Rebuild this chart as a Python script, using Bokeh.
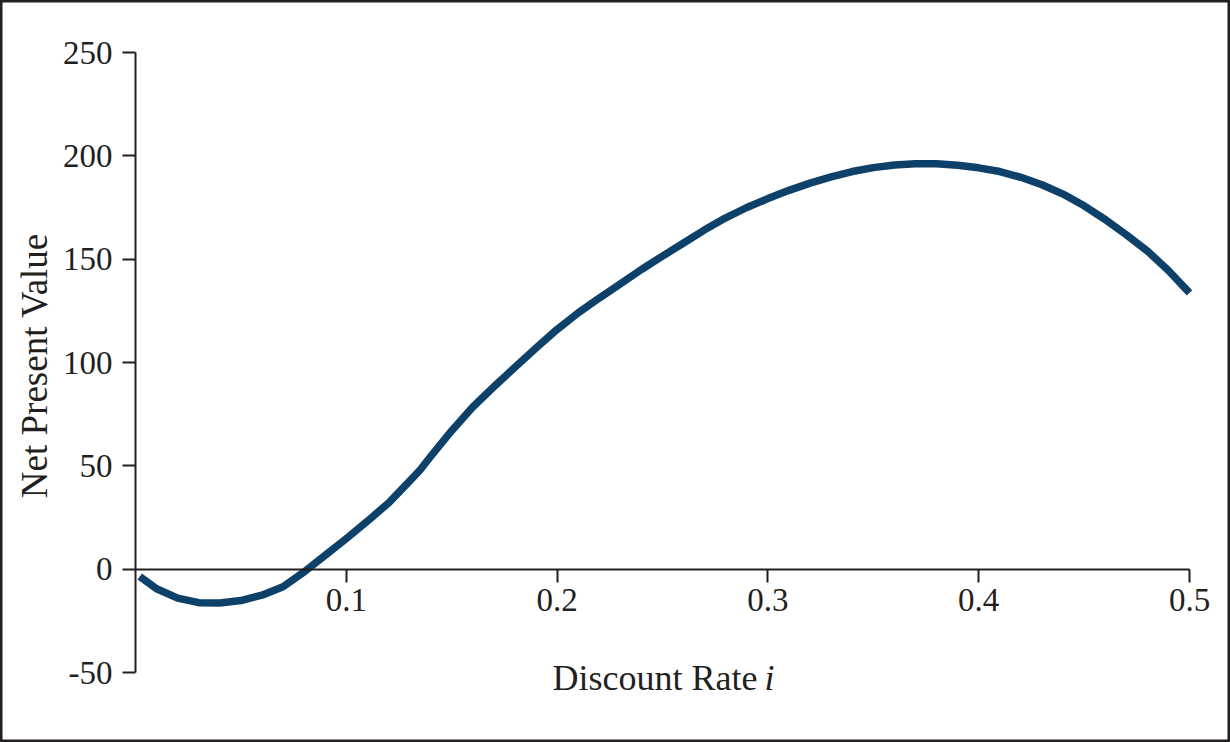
import math
from bokeh.plotting import figure
from bokeh.models import Range1d, LinearAxis, FixedTicker, Label
from bokeh.embed import file_html
from bokeh.resources import INLINE

# ---- data ----
discount_rate = [0.002, 0.01, 0.02, 0.03, 0.04, 0.05, 0.06, 0.07, 0.08, 0.09,
                 0.10, 0.11, 0.12, 0.13, 0.135, 0.14, 0.15, 0.16, 0.17, 0.18,
                 0.19, 0.20, 0.21, 0.22, 0.23, 0.24, 0.25, 0.26, 0.27, 0.28,
                 0.29, 0.30, 0.31, 0.32, 0.33, 0.34, 0.35, 0.36, 0.37, 0.38,
                 0.39, 0.40, 0.41, 0.42, 0.43, 0.44, 0.45, 0.46, 0.47, 0.48,
                 0.49, 0.50]
npv = [-3.5, -9.5, -14.0, -16.2, -16.4, -15.2, -12.6, -8.5, -1.3, 6.7,
       14.8, 23.2, 32.0, 42.6, 48.0, 54.5, 67.0, 78.5, 88.3, 97.7,
       107.0, 116.0, 124.0, 131.2, 138.0, 145.0, 151.5, 157.8, 164.2, 170.0,
       175.0, 179.3, 183.3, 186.8, 189.8, 192.4, 194.3, 195.6, 196.2, 196.2,
       195.4, 194.2, 192.4, 189.6, 186.0, 181.5, 175.8, 169.2, 161.8, 154.0,
       144.5, 133.7]

x_ticks = [0.1, 0.2, 0.3, 0.4, 0.5]
x_tick_labels = ["0.1", "0.2", "0.3", "0.4", "0.5"]
y_ticks = [-50, 0, 50, 100, 150, 200, 250]
y_tick_labels = ["-50", "0", "50", "100", "150", "200", "250"]

x_label = "Discount Rate"
x_label_var = "i"
y_label = "Net Present Value"

FONT = "Liberation Serif"
TXT = "#231f20"
LINE = "#0e4169"

# ---- layout: the frame fills the whole canvas; axes sit at fixed data positions
W, H = 1230, 742
AX_LEFT, AX_RIGHT = 135, 1189      # pixel position of x = 0 and x = 0.5
AX_TOP, AX_BOTTOM = 52, 672        # pixel position of y = 250 and y = -50
xs = (AX_RIGHT - AX_LEFT) / (x_ticks[-1] - 0.0)
ys = (AX_BOTTOM - AX_TOP) / (y_ticks[-1] - y_ticks[0])
x_range = Range1d(0.0 - AX_LEFT / xs, x_ticks[-1] + (W - AX_RIGHT) / xs)
y_range = Range1d(y_ticks[0] - (H - AX_BOTTOM) / ys, y_ticks[-1] + AX_TOP / ys)

p = figure(width=W, height=H, output_backend="svg", toolbar_location=None,
           x_range=x_range, y_range=y_range,
           x_axis_location=None, y_axis_location=None, min_border=0)
p.grid.visible = False
p.outline_line_color = TXT
p.outline_line_width = 4
p.background_fill_color = "white"
p.border_fill_color = "white"


def style_axis(ax, standoff):
    ax.minor_tick_line_color = None
    ax.major_tick_in = 0
    ax.major_tick_out = 13
    ax.major_tick_line_width = 2
    ax.major_tick_line_color = TXT
    ax.axis_line_width = 2
    ax.axis_line_color = TXT
    ax.major_label_text_font = FONT
    ax.major_label_text_font_size = "33px"
    ax.major_label_text_color = TXT
    ax.major_label_standoff = standoff


# y axis at x = 0
ya = LinearAxis(fixed_location=0, ticker=FixedTicker(ticks=y_ticks),
                bounds=(y_ticks[0], y_ticks[-1]))
ya.major_label_overrides = {t: l for t, l in zip(y_ticks, y_tick_labels)}
style_axis(ya, 10)
p.add_layout(ya, "left")

# x axis at y = 0
xa = LinearAxis(fixed_location=0, ticker=FixedTicker(ticks=x_ticks),
                bounds=(0.0, x_ticks[-1]))
xa.major_label_overrides = {t: l for t, l in zip(x_ticks, x_tick_labels)}
style_axis(xa, 7)
p.add_layout(xa, "below")

# curve
p.line(discount_rate, npv, line_color=LINE, line_width=7.5, line_join="round")

# axis titles
p.add_layout(Label(x=0.2951, y=-52.7, text=x_label, text_align="right",
                   text_baseline="alphabetic", text_font=FONT,
                   text_font_size="36px", text_color=TXT))
p.add_layout(Label(x=0.2984, y=-52.7, text=x_label_var, text_align="left",
                   text_baseline="alphabetic", text_font=FONT,
                   text_font_size="36px", text_font_style="italic", text_color=TXT))
p.add_layout(Label(x=-0.0478, y=98.5, text=y_label, angle=math.pi / 2,
                   text_align="center", text_baseline="alphabetic",
                   text_font=FONT, text_font_size="37px", text_color=TXT))

open("out.html", "w").write(file_html(p, INLINE))
